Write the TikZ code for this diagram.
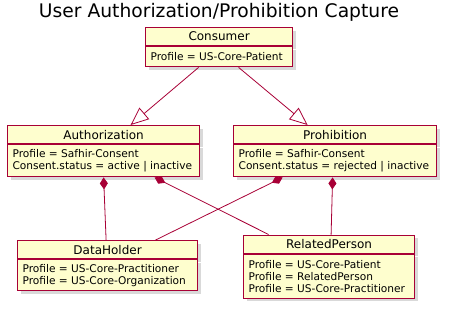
\documentclass[tikz,border=0pt]{standalone}
\usepackage{fontspec}
\setmainfont{DejaVu Sans}
\usetikzlibrary{positioning,arrows.meta,shadows}
\definecolor{umlred}{HTML}{A80036}
\definecolor{umlfill}{HTML}{FEFECE}
\hyphenpenalty=10000
\exhyphenpenalty=10000

\begin{document}
\begin{tikzpicture}[
    x=1bp, y=-1bp,
    cls/.style={rectangle, draw=umlred, line width=1.2bp, fill=umlfill,
        drop shadow={shadow xshift=3bp, shadow yshift=-3bp, opacity=0.3}},
    head/.style={cls, minimum height=18bp, anchor=north west, inner sep=0pt,
        font=\fontsize{12bp}{14bp}\selectfont},
    body/.style={cls, inner xsep=5bp, inner ysep=0pt, align=flush left,
        font=\fontsize{10.6bp}{12bp}\selectfont},
    link/.style={draw=umlred, line width=0.8bp},
    gen/.style={link, arrows=-{Triangle[open, length=18bp, width=15bp]}},
    comp/.style={link, arrows={Diamond[length=12bp, width=8bp]-}}
]
    \useasboundingbox (0,0) rectangle (449,308);
    \node[font=\fontsize{18.7bp}{22bp}\selectfont, anchor=base] (title) at (219,17.5) {User Authorization/Prohibition Capture};

    % classes
    \node[head, minimum width=147bp] (cons) at (145,27) {Consumer};
    \node[body, text width=137bp, minimum height=20bp, below=0pt of cons] (cons-b) {Profile = US-Core-Patient};

    \node[head, minimum width=192bp] (auth) at (7,125) {Authorization};
    \node[body, text width=182bp, minimum height=32bp, below=0pt of auth] (auth-b) {Profile = Safhir-Consent\\Consent.status = active | inactive};

    \node[head, minimum width=203bp] (proh) at (233,125) {Prohibition};
    \node[body, text width=193bp, minimum height=32bp, below=0pt of proh] (proh-b) {Profile = Safhir-Consent\\Consent.status = rejected | inactive};

    \node[head, minimum width=180bp] (dh) at (17,240) {DataHolder};
    \node[body, text width=170bp, minimum height=31bp, below=0pt of dh] (dh-b) {Profile = US-Core-Practitioner\\Profile = US-Core-Organization};

    \node[head, minimum width=171bp] (rp) at (243,234.5) {RelatedPerson};
    \node[body, text width=161bp, minimum height=44bp, below=0pt of rp] (rp-b) {Profile = US-Core-Patient\\Profile = RelatedPerson\\Profile = US-Core-Practitioner};

    % links
    \draw[gen] ([xshift=-20.5bp]cons-b.south) -- ([xshift=27bp]auth.north);
    \draw[gen] ([xshift=19.5bp]cons-b.south) -- ([xshift=-27.5bp]proh.north);
    \draw[comp] (auth-b.south) -- ([xshift=-1.5bp]dh.north);
    \draw[comp] ([xshift=51bp]auth-b.south) -- ([xshift=-60.5bp]rp.north);
    \draw[comp] ([xshift=-52.5bp]proh-b.south) -- ([xshift=48bp]dh.north);
    \draw[comp] ([xshift=-2.5bp]proh-b.south) -- ([xshift=2bp]rp.north);
\end{tikzpicture}
\end{document}
